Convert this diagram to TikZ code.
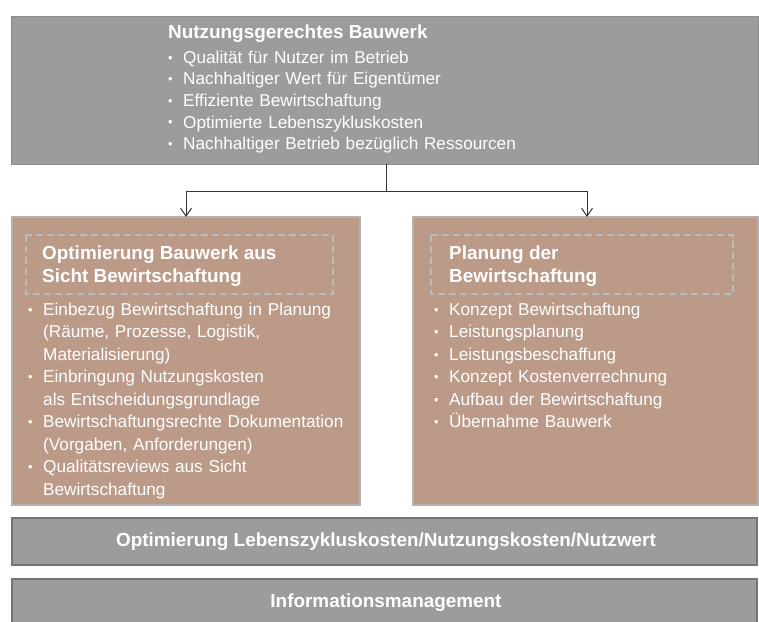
\documentclass[tikz,border=0pt]{standalone}
\usepackage{graphicx}
\usepackage{fontspec}
\setmainfont{Liberation Sans}
\usetikzlibrary{arrows.meta}
\definecolor{topgrey}{HTML}{9C9C9C}
\definecolor{topedge}{HTML}{8C8C8C}
\definecolor{brownfill}{HTML}{BB9A88}
\definecolor{brownedge}{HTML}{B2B2B2}
\definecolor{dashgrey}{HTML}{B9BDBF}
\definecolor{botedge}{HTML}{757575}
\definecolor{linecol}{HTML}{333333}
\newcommand{\bul}[1]{\par\noindent\hangindent=15pt\hangafter=1\makebox[15pt][l]{\raisebox{0.12ex}{\scalebox{0.75}{•}}}#1}
\newcommand{\topfont}{\fontsize{17.2}{21.6}\selectfont}
\newcommand{\bodyfont}{\fontsize{17.2}{22.5}\selectfont}
\newcommand{\headfont}{\fontsize{18.9}{23}\selectfont\bfseries}
\tikzset{
  x=1pt, y=-1pt,
  topbox/.style={fill=topgrey, draw=topedge, line width=1pt},
  brownbox/.style={fill=brownfill, draw=brownedge, line width=2pt},
  dashbox/.style={draw=dashgrey, line width=2pt, dash pattern=on 7pt off 4pt},
  botbox/.style={fill=topgrey, draw=botedge, line width=2.5pt},
  headtxt/.style={anchor=base west, inner sep=0pt, text=white, font=\headfont, align=left},
  listtxt/.style={anchor=north west, inner sep=0pt, text=white, text width=#1},
  bartxt/.style={inner sep=0pt, text=white, font=\headfont},
  conn/.style={draw=linecol, line width=1pt},
  arr/.style={conn, -{Straight Barb[length=8pt,width=11pt]}}
}
\begin{document}
\begin{tikzpicture}
\useasboundingbox (0,0) rectangle (759,621);
% top box
\draw[topbox] (11,16) rectangle (758,164);
\node[headtxt] (toptitle) at (168,38) {Nutzungsgerechtes Bauwerk};
\node[listtxt=450pt, font=\topfont] (toplist) at (168,41.4) {\raggedright
\bul{Qualität für Nutzer im Betrieb}
\bul{Nachhaltiger Wert für Eigentümer}
\bul{Effiziente Bewirtschaftung}
\bul{Optimierte Lebenszykluskosten}
\bul{Nachhaltiger Betrieb bezüglich Ressourcen}\par};
\coordinate (topbot) at (386,164);
\coordinate (split) at (386,191);
\coordinate (lsplit) at (186,191);
\coordinate (rsplit) at (587,191);
% left brown box
\draw[brownbox] (12,217) rectangle (360,505);
\coordinate (ltop) at (186,217);
\draw[dashbox] (26,235) rectangle (333,294);
\node[headtxt] (ltitle) at (42,282) {Optimierung Bauwerk aus\\Sicht Bewirtschaftung};
\node[listtxt=335pt, font=\bodyfont] (llist) at (28,292.5) {\raggedright
\bul{Einbezug Bewirtschaftung in Planung\newline (Räume, Prozesse, Logistik,\newline Materialisierung)}
\bul{Einbringung Nutzungskosten\newline als Entscheidungsgrundlage}
\bul{Bewirtschaftungsrechte Dokumentation\newline (Vorgaben, Anforderungen)}
\bul{Qualitätsreviews aus Sicht\newline Bewirtschaftung}\par};
% right brown box
\draw[brownbox] (413,217) rectangle (758,505);
\coordinate (rtop) at (587,217);
\draw[dashbox] (431,235) rectangle (733,294);
\node[headtxt] (rtitle) at (449,282) {Planung der\\Bewirtschaftung};
\node[listtxt=320pt, font=\bodyfont] (rlist) at (434,292.5) {\raggedright
\bul{Konzept Bewirtschaftung}
\bul{Leistungsplanung}
\bul{Leistungsbeschaffung}
\bul{Konzept Kostenverrechnung}
\bul{Aufbau der Bewirtschaftung}
\bul{Übernahme Bauwerk}\par};
% connectors
\draw[conn] (topbot) -- (split);
\draw[arr] (split) -- (lsplit) -- (ltop);
\draw[arr] (split) -- (rsplit) -- (rtop);
% bottom bars
\draw[botbox] (12,518) rectangle (757,565);
\node[bartxt] (bar1) at (386,542) {Optimierung Lebenszykluskosten/Nutzungskosten/Nutzwert};
\draw[botbox] (12,579) rectangle (757,640);
\node[bartxt] (bar2) at (386,603) {Informationsmanagement};
\end{tikzpicture}
\end{document}
